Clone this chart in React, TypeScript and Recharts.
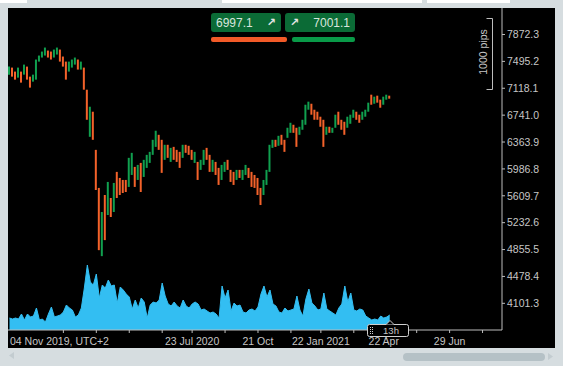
import React from 'react';
import { ComposedChart, Bar, Area, XAxis, YAxis, Cell } from 'recharts';

// candle ranges, one per slot (UK100, Nov 2019 - Apr 2021)
const highs = [
  7422, 7408, 7352, 7408, 7352, 7450, 7422, 7281, 7309, 7521,
  7577, 7633, 7689, 7647, 7633, 7661, 7689, 7661, 7563, 7492,
  7492, 7521, 7549, 7521, 7492, 7408, 7098, 6859, 6789, 6254,
  5720, 5382, 5621, 5804, 5579, 5790, 5945, 5860, 5832, 5832,
  6142, 6212, 6015, 6043, 6071, 6114, 6184, 6226, 6395, 6522,
  6465, 6395, 6325, 6325, 6282, 6296, 6254, 6226, 6325, 6325,
  6311, 6254, 6226, 6085, 6114, 6254, 6282, 6184, 6114, 6085,
  6001, 6043, 6085, 6114, 5973, 5945, 5973, 5973, 5973, 6043,
  6001, 5945, 5902, 5860, 5720, 5832, 5973, 6325, 6395, 6395,
  6451, 6465, 6395, 6564, 6634, 6606, 6564, 6578, 6676, 6887,
  6930, 6901, 6817, 6789, 6719, 6676, 6578, 6578, 6564, 6747,
  6789, 6676, 6648, 6719, 6747, 6817, 6789, 6747, 6789, 6817,
  6916, 7028, 7000, 7014, 6958, 7000, 7028, 7014,
];
const lows = [
  7309, 7281, 7239, 7267, 7197, 7309, 7239, 7127, 7211, 7239,
  7492, 7549, 7577, 7549, 7521, 7549, 7591, 7492, 7422, 7239,
  7352, 7408, 7450, 7380, 7380, 7098, 6676, 6437, 6395, 5691,
  4847, 4763, 4988, 5340, 5312, 5382, 5579, 5621, 5649, 5663,
  5734, 5902, 5734, 5832, 5663, 5874, 6001, 6071, 6184, 6296,
  6254, 5931, 6114, 6142, 6085, 6114, 6085, 6001, 6142, 6212,
  6184, 6114, 6071, 5832, 5973, 6043, 6114, 5945, 5945, 5902,
  5762, 5832, 5945, 5973, 5804, 5762, 5832, 5860, 5832, 5902,
  5860, 5734, 5720, 5621, 5480, 5621, 5762, 5945, 6282, 6296,
  6311, 6325, 6226, 6423, 6493, 6493, 6296, 6465, 6536, 6606,
  6817, 6747, 6676, 6676, 6578, 6296, 6465, 6493, 6493, 6564,
  6606, 6536, 6465, 6564, 6620, 6704, 6676, 6634, 6676, 6719,
  6789, 6887, 6901, 6916, 6845, 6887, 6958, 6972,
];
// u = bullish candle, d = bearish candle
const directions =
  'uddududduu' + 'uuudduuddd' + 'uuududdudd' + 'dudududddd' + 'uududuuuuu' +
  'ddududddud' + 'dduduuddud' + 'duuddduduu' + 'ddddduuuud' + 'udduudduuu' +
  'uddddduduu' + 'ddduuudduu' + 'ududduud';
// tick volume
const volumes = [
  12, 11, 12, 11, 16, 10, 16, 13, 14, 22,
  10, 11, 8, 16, 23, 13, 14, 15, 18, 25,
  22, 20, 13, 15, 22, 42, 65, 48, 45, 56,
  32, 45, 42, 50, 44, 45, 27, 43, 40, 36,
  33, 21, 30, 22, 32, 28, 12, 25, 28, 27,
  30, 47, 34, 26, 24, 28, 24, 22, 30, 24,
  22, 26, 28, 26, 20, 21, 19, 17, 18, 16,
  12, 44, 32, 40, 19, 27, 24, 25, 18, 17,
  20, 21, 19, 23, 36, 44, 33, 40, 26, 24,
  18, 17, 22, 19, 20, 21, 34, 20, 14, 31,
  41, 27, 24, 20, 21, 37, 21, 19, 17, 15,
  22, 26, 44, 28, 37, 20, 19, 21, 20, 14,
  12, 10, 11, 10, 14, 12, 13, 15,
];

const priceTicks = [4101.3, 4478.4, 4855.5, 5232.6, 5609.7, 5986.8, 6363.9, 6741.0, 7118.1, 7495.2, 7872.3];
const dateTickSlots = [0, 18, 29, 40, 51, 61, 72, 83, 94, 104, 115, 125, 136, 147, 158];
const dateTickLabels = ['04 Nov 2019, UTC+2', '', '', '', '', '23 Jul 2020', '', '21 Oct', '', '22 Jan 2021', '', '22 Apr', '', '29 Jun', ''];
const bidPrice = '6997.1';
const askPrice = '7001.1';
const TOTAL_SLOTS = 165;

const UP = '#10a04f';
const DOWN = '#f4622a';
const TEXT = '#c6c6c6';
const AXIS = '#bdbdbd';
const FONT = '"Liberation Sans", Arial, sans-serif';

const CHART_W = 547;
const CHART_H = 340;
const AXIS_Y = 322;

const rows = Array.from({ length: TOTAL_SLOTS }, (_, i) =>
  i < highs.length
    ? { i, range: [lows[i], highs[i]], up: directions[i] === 'u', vol: volumes[i] }
    : { i }
);

function DateTick(props: any) {
  const { x, payload } = props;
  const k = dateTickSlots.indexOf(payload.value);
  const label = dateTickLabels[k] || '';
  if (k === 0) {
    return (
      <text x={2} y={AXIS_Y + 15} fill={TEXT} fontSize={10.5} fontFamily={FONT} textAnchor="start">
        {label}
      </text>
    );
  }
  return (
    <g>
      <line x1={x} x2={x} y1={AXIS_Y} y2={AXIS_Y + 3} stroke={AXIS} />
      {label && (
        <text x={x} y={AXIS_Y + 15} fill={TEXT} fontSize={10.5} fontFamily={FONT} textAnchor="middle">
          {label}
        </text>
      )}
    </g>
  );
}

function PriceBox({ left, value, arrowFirst }: { left: number; value: string; arrowFirst: boolean }) {
  const arrow = (
    <span style={{ fontFamily: '"DejaVu Sans", sans-serif', fontWeight: 700, fontSize: 11, color: '#e6e6e6' }}>↗</span>
  );
  return (
    <div
      style={{
        position: 'absolute', left, top: 13, width: 70, height: 19, background: '#0b6b36', borderRadius: 3,
        display: 'flex', alignItems: 'center', justifyContent: 'space-between', padding: '0 5px',
        boxSizing: 'border-box', color: '#d9e6dd', fontSize: 12, fontFamily: FONT,
      }}
    >
      {arrowFirst ? arrow : <span>{value}</span>}
      {arrowFirst ? <span>{value}</span> : arrow}
    </div>
  );
}

export default function App() {
  return (
    <div style={{ position: 'fixed', left: 0, top: 0, width: 563, height: 366, background: '#d6dde0', overflow: 'hidden', fontFamily: FONT }}>
      {/* bits of the toolbar above */}
      <div style={{ position: 'absolute', left: 0, top: 0, width: 27, height: 3, background: '#fff' }} />
      <div style={{ position: 'absolute', left: 222, top: 0, width: 200, height: 3, background: '#fff' }} />
      <div style={{ position: 'absolute', left: 427, top: 0, width: 83, height: 3, background: '#fff' }} />

      <div style={{ position: 'absolute', left: 8, top: 8, width: CHART_W, height: CHART_H, background: '#000' }}>
        <ComposedChart width={CHART_W} height={CHART_H} data={rows} margin={{ top: 0, right: 0, bottom: 0, left: 0 }} barCategoryGap={0}>
          <XAxis
            dataKey="i"
            height={18}
            ticks={dateTickSlots}
            interval={0}
            tick={<DateTick />}
            tickLine={false}
            axisLine={{ stroke: AXIS }}
          />
          <YAxis
            yAxisId="price"
            orientation="right"
            width={53}
            domain={[3727, 8244]}
            allowDataOverflow
            ticks={priceTicks}
            interval={0}
            tickFormatter={(v: number) => v.toFixed(1)}
            tick={{ fill: TEXT, fontSize: 10.5, fontFamily: FONT, textAnchor: 'start' }}
            tickSize={3}
            tickMargin={2}
            tickLine={{ stroke: AXIS }}
            axisLine={{ stroke: AXIS }}
          />
          <YAxis yAxisId="vol" hide domain={[0, 322]} />
          <Area
            yAxisId="vol"
            dataKey="vol"
            type="linear"
            fill="#33bef2"
            fillOpacity={1}
            stroke="#33bef2"
            strokeWidth={1}
            isAnimationActive={false}
          />
          <Bar yAxisId="price" dataKey="range" barSize={2} isAnimationActive={false}>
            {rows.map((r: any) => (
              <Cell key={r.i} fill={r.up ? UP : DOWN} />
            ))}
          </Bar>
        </ComposedChart>
      </div>

      {/* bid / ask boxes */}
      <PriceBox left={211} value={bidPrice} arrowFirst={false} />
      <PriceBox left={285} value={askPrice} arrowFirst={true} />
      <div style={{ position: 'absolute', left: 211, top: 37, width: 76, height: 5, background: '#f25a28', borderRadius: 2 }} />
      <div style={{ position: 'absolute', left: 292, top: 37, width: 63, height: 5, background: '#099a48', borderRadius: 2 }} />

      <svg width={563} height={366} style={{ position: 'absolute', left: 0, top: 0, pointerEvents: 'none' }}>
        {/* 1000 pips scale */}
        <path d="M486.5 18.5 H492.5 V89.5 H486.5" fill="none" stroke={AXIS} />
        <text x={484} y={52} transform="rotate(-90 484 52)" textAnchor="middle" dominantBaseline="middle" fill={TEXT} fontSize={10.5} fontFamily={FONT}>
          1000 pips
        </text>

        {/* countdown box */}
        <rect x={367.5} y={324.5} width={41} height={12} rx={2} fill="#000" stroke="#cfcfcf" />
        <polyline points="386,324.5 390,320.5 394,324.5" fill="#000" stroke="#cfcfcf" />
        {[327, 329, 331, 333].map((yy) => (
          <g key={yy}>
            <rect x={370} y={yy} width={1} height={1} fill="#cfcfcf" />
            <rect x={372} y={yy} width={1} height={1} fill="#cfcfcf" />
          </g>
        ))}
        <text x={391} y={334} textAnchor="middle" fill={TEXT} fontSize={9.5} fontFamily={FONT}>13h</text>

        {/* scrollbar */}
        <polygon points="9,355.5 14,352 14,359" fill="#c3ccd0" />
        <rect x={403} y={353} width={142} height={8} rx={4} fill="#b5c1c6" />
        <polygon points="553,356.5 548,353 548,360" fill="#c3ccd0" />
      </svg>
    </div>
  );
}
